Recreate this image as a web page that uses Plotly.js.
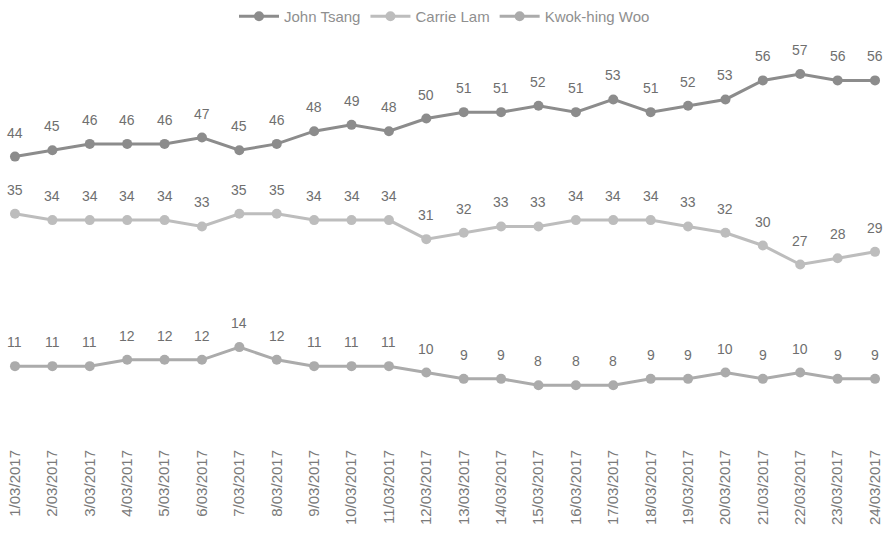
<!DOCTYPE html>
<html>
<head>
<meta charset="utf-8">
<script src="https://cdn.plot.ly/plotly-3.0.1.min.js"></script>
<style>html,body{margin:0;padding:0;background:#fff;}#chart{width:889px;height:538px;}</style>
</head>
<body>
<div id="chart"></div>
<script>
// Daily poll figures, 1–24 March 2017
const dates = ["1/03/2017","2/03/2017","3/03/2017","4/03/2017","5/03/2017","6/03/2017","7/03/2017","8/03/2017","9/03/2017","10/03/2017","11/03/2017","12/03/2017","13/03/2017","14/03/2017","15/03/2017","16/03/2017","17/03/2017","18/03/2017","19/03/2017","20/03/2017","21/03/2017","22/03/2017","23/03/2017","24/03/2017"];
const johnTsang = [44,45,46,46,46,47,45,46,48,49,48,50,51,51,52,51,53,51,52,53,56,57,56,56];
const carrieLam = [35,34,34,34,34,33,35,35,34,34,34,31,32,33,33,34,34,34,33,32,30,27,28,29];
const kwokHingWoo = [11,11,11,12,12,12,14,12,11,11,11,10,9,9,8,8,8,9,9,10,9,10,9,9];

const names = ["John Tsang", "Carrie Lam", "Kwok-hing Woo"];
const colors = ["#8c8c8c", "#bdbdbd", "#ababab"];
const series = [johnTsang, carrieLam, kwokHingWoo];

const traces = series.map((vals, i) => ({
  type: "scatter",
  mode: "lines+markers",
  name: names[i],
  x: dates,
  y: vals,
  line: {color: colors[i], width: 3},
  marker: {color: colors[i], size: 10, symbol: "circle"},
  cliponaxis: false
}));

// value labels sit a little above each point
const annotations = [];
series.forEach(vals => {
  vals.forEach((v, j) => {
    annotations.push({
      x: dates[j], y: v, xref: "x", yref: "y",
      text: String(v), showarrow: false,
      yanchor: "middle", yshift: 24,
      font: {family: "Liberation Sans, Arial, sans-serif", size: 14, color: "#6f6f6f"}
    });
  });
});

const layout = {
  width: 889,
  height: 538,
  margin: {l: 0, r: 0, t: 55, b: 102},
  paper_bgcolor: "#ffffff",
  plot_bgcolor: "#ffffff",
  showlegend: true,
  legend: {
    orientation: "h",
    x: 0.5, xanchor: "center",
    y: 1.0, yref: "container", yanchor: "top",
    font: {family: "Liberation Sans, Arial, sans-serif", size: 15, color: "#8f8f8f"},
    itemwidth: 40,
    tracegroupgap: 0
  },
  annotations: annotations,
  xaxis: {
    type: "category",
    range: [-0.401, 23.374],
    showgrid: false,
    zeroline: false,
    showline: false,
    ticks: "",
    tickangle: -90,
    ticklabelstandoff: 10,
    tickfont: {family: "Liberation Sans, Arial, sans-serif", size: 15, color: "#7a7a7a"}
  },
  yaxis: {
    range: [0, 60],
    visible: false,
    showgrid: false,
    zeroline: false
  }
};

Plotly.newPlot("chart", traces, layout, {displayModeBar: false, staticPlot: true});
</script>
</body>
</html>
